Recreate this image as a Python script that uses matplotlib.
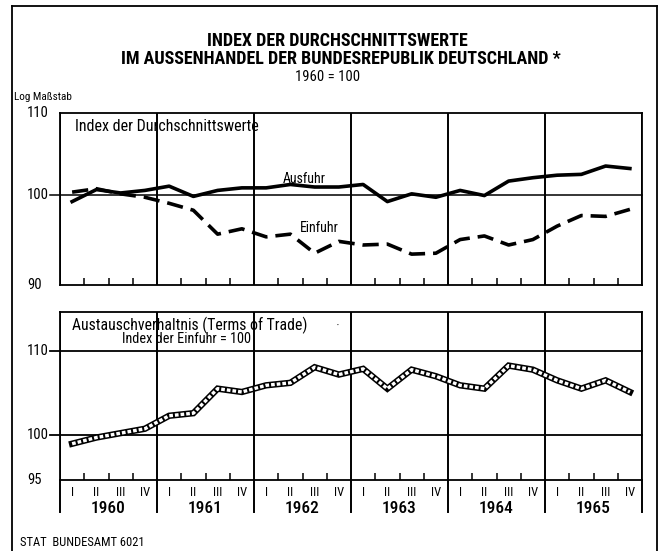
import numpy as np
import matplotlib
matplotlib.use("Agg")
import matplotlib.pyplot as plt
from matplotlib import font_manager
from matplotlib.lines import Line2D
from matplotlib.ticker import NullLocator, NullFormatter

# ---------------- data ----------------
years = ["1960", "1961", "1962", "1963", "1964", "1965"]
quarters = ["I", "II", "III", "IV"]

ausfuhr = [99.2, 100.6, 100.2, 100.5, 101.0, 99.8, 100.5, 100.8,
           100.8, 101.2, 100.9, 100.9, 101.2, 99.2, 100.1, 99.7,
           100.5, 99.9, 101.6, 102.0, 102.3, 102.4, 103.4, 103.1]
einfuhr = [100.3, 100.7, 100.1, 99.7, 99.0, 98.2, 95.5, 96.1,
           95.2, 95.5, 93.4, 94.7, 94.3, 94.4, 93.3, 93.4,
           94.9, 95.3, 94.3, 94.9, 96.4, 97.6, 97.5, 98.3]
terms_of_trade = [99.0, 99.7, 100.2, 100.7, 102.2, 102.5, 105.4, 105.0,
                  105.8, 106.1, 108.0, 107.1, 107.8, 105.4, 107.7, 106.9,
                  105.8, 105.4, 108.2, 107.7, 106.4, 105.4, 106.4, 105.0]

# ---------------- fonts: look for a condensed sans ----------------
entries = font_manager.fontManager.ttflist
cond_stretch = ("condensed", "semi-condensed", "extra-condensed", "ultra-condensed")
chosen_family, chosen_stretch = "DejaVu Sans", "normal"
found = False
for pref in ["Liberation Sans Narrow", "Roboto Condensed", "Noto Sans", "Open Sans",
             "DejaVu Sans Condensed", "DejaVu Sans", "Roboto", "Inter", "Lato"]:
    for f in entries:
        if f.name == pref and f.style == "normal" and (
                str(f.stretch) in cond_stretch or "Narrow" in f.name or "Condensed" in f.name):
            chosen_family = f.name
            chosen_stretch = str(f.stretch) if str(f.stretch) in cond_stretch else "normal"
            found = True
            break
    if found:
        break
if not found:
    for f in entries:
        if f.style == "normal" and ("Narrow" in f.name or "Condensed" in f.name
                                    or str(f.stretch) in cond_stretch):
            chosen_family = f.name
            chosen_stretch = str(f.stretch) if str(f.stretch) in cond_stretch else "normal"
            found = True
            break
plt.rcParams["font.family"] = [chosen_family, "DejaVu Sans"]
plt.rcParams["font.stretch"] = chosen_stretch
sc = 1.0 if found else 0.85  # shrink if no condensed face available

W, H = 663, 551
fig = plt.figure(figsize=(W / 100, H / 100), dpi=100)

def fx(px):
    return px / W

def fy(py):
    return 1 - py / H

n = len(ausfuhr)
x = np.arange(n) + 0.5

# figure border
for (x0, y0, x1, y1) in [(12, 6, 657, 6), (12, 6, 12, 551), (657, 6, 657, 551)]:
    fig.add_artist(Line2D([fx(x0), fx(x1)], [fy(y0), fy(y1)], color="black", lw=1.3,
                          transform=fig.transFigure))

# titles
fig.text(fx(337), fy(41), "INDEX DER DURCHSCHNITTSWERTE", ha="center", va="center",
         fontsize=13 * sc, fontweight="bold")
fig.text(fx(341), fy(59), "IM AUSSENHANDEL DER BUNDESREPUBLIK DEUTSCHLAND *", ha="center",
         va="center", fontsize=13 * sc, fontweight="bold")
fig.text(fx(328), fy(77), "1960 = 100", ha="center", va="center", fontsize=10.5 * sc)
fig.text(fx(14), fy(97), "Log Maßstab", ha="left", va="center", fontsize=8 * sc)
fig.text(fx(20), fy(542), "STAT  BUNDESAMT 6021", ha="left", va="center", fontsize=9 * sc)

L, R = 60, 642
ax1 = fig.add_axes([fx(L), fy(285), fx(R - L), (285 - 113) / H])
ax2 = fig.add_axes([fx(L), fy(480), fx(R - L), (480 - 312) / H])

for ax in (ax1, ax2):
    ax.set_yscale("log")
    ax.set_xlim(0, n)
    ax.yaxis.set_major_locator(NullLocator())
    ax.yaxis.set_minor_locator(NullLocator())
    ax.yaxis.set_major_formatter(NullFormatter())
    ax.yaxis.set_minor_formatter(NullFormatter())
    for s in ax.spines.values():
        s.set_linewidth(1.3)
    qt = [i for i in range(1, n) if i % 4 != 0]
    ax.set_xticks(qt)
    ax.set_xticklabels([])
    ax.tick_params(axis="x", direction="in", length=5, width=1.1)
    for yb in range(0, n + 1, 4):
        ax.axvline(yb, color="black", lw=1.4)

lab_x = (27 - L) / (R - L)

# ---------- top panel ----------
ax1.set_ylim(90, 110)
ax1.add_line(Line2D([-0.017, 1], [100, 100], color="black", lw=1.1,
                    transform=ax1.get_yaxis_transform(), clip_on=False))
for v in (110, 100, 90):
    ax1.text(lab_x, v, str(v), transform=ax1.get_yaxis_transform(), ha="left",
             va="center", fontsize=10.5 * sc)
ax1.plot(x, ausfuhr, color="black", lw=2.6, solid_joinstyle="round", zorder=4)
ax1.plot(x, einfuhr, color="black", lw=2.6, dashes=(4.5, 2.2), zorder=4)
ax1.text(0.6, 108.3, "Index der Durchschnittswerte", fontsize=11.5 * sc, va="center")
ax1.text(9.2, 101.9, "Ausfuhr", fontsize=10 * sc, va="center")
ax1.text(9.9, 96.2, "Einfuhr", fontsize=10 * sc, va="center")

# ---------- bottom panel ----------
ax2.set_ylim(95, 115.0)
for v in (110, 100):
    ax2.add_line(Line2D([-0.017, 1], [v, v], color="black", lw=1.3,
                        transform=ax2.get_yaxis_transform(), clip_on=False))
for v in (110, 100, 95):
    ax2.text(lab_x, v, str(v), transform=ax2.get_yaxis_transform(), ha="left",
             va="center", fontsize=10.5 * sc)
ax2.plot(x, terms_of_trade, color="black", lw=4.6, solid_joinstyle="miter", zorder=4)
ax2.plot(x, terms_of_trade, color="white", lw=2.4, dashes=(1.1, 0.6), zorder=5)
ax2.text(0.5, 113.3, "Austauschverhaltnis (Terms of Trade)", fontsize=11.3 * sc, va="center")
ax2.text(11.4, 113.3, "•", fontsize=4, va="center")
ax2.text(2.55, 111.5, "Index der Einfuhr = 100", fontsize=10.3 * sc, va="center")

# year separators extend below axes
for yb in range(0, n + 1, 4):
    ax2.add_line(Line2D([yb, yb], [0, -0.19], color="black", lw=1.4,
                        transform=ax2.get_xaxis_transform(), clip_on=False))
for i in range(n):
    ax2.text(x[i], -0.075, quarters[i % 4], transform=ax2.get_xaxis_transform(),
             ha="center", va="center", fontsize=9 * sc)
for k, yr in enumerate(years):
    ax2.text(4 * k + 2, -0.17, yr, transform=ax2.get_xaxis_transform(),
             ha="center", va="center", fontsize=12.5 * sc, fontweight="medium")

fig.savefig("out.png", dpi=100)
